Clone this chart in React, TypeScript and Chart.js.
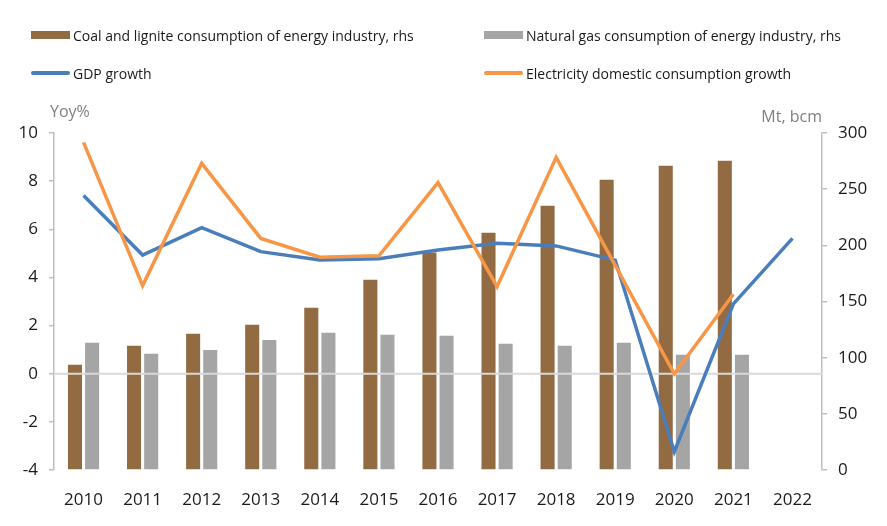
import React, { useEffect, useRef } from "react";
import { Chart, registerables } from "chart.js";

Chart.register(...registerables);

const years = ["2010", "2011", "2012", "2013", "2014", "2015", "2016", "2017", "2018", "2019", "2020", "2021", "2022"];
const coalMt = [93.6, 110.5, 121.2, 129.2, 144.4, 169.3, 193.7, 211.2, 235.3, 258.4, 270.9, 275.3, null];
const gasBcm = [113.2, 103.4, 106.9, 115.8, 122.1, 120.3, 119.4, 112.3, 110.5, 113.2, 102.5, 102.5, null];
const gdpGrowth = [7.4, 4.93, 6.07, 5.07, 4.72, 4.78, 5.14, 5.42, 5.31, 4.72, -3.24, 2.9, 5.62];
const elecGrowth = [9.61, 3.66, 8.74, 5.62, 4.84, 4.9, 7.94, 3.62, 8.99, 4.5, 0.0, 3.3, null];

const legendItems = [
  { label: "Coal and lignite consumption of energy industry, rhs", color: "#926b42", kind: "box" },
  { label: "Natural gas consumption of energy industry, rhs", color: "#a5a5a5", kind: "box" },
  { label: "GDP growth", color: "#4a7ebb", kind: "line" },
  { label: "Electricity domestic consumption growth", color: "#f79646", kind: "line" },
];

const FONT = "'Open Sans', sans-serif";

export default function App() {
  const ref = useRef<HTMLCanvasElement | null>(null);

  useEffect(() => {
    if (!ref.current) return;
    let zeroDrawn = false;
    const zeroLine = {
      id: "zeroLine",
      beforeDatasetsDraw() {
        zeroDrawn = false;
      },
      beforeDatasetDraw(chart: any, args: any) {
        if (zeroDrawn || args.meta.type !== "line") return;
        zeroDrawn = true;
        const y = chart.scales.y.getPixelForValue(0);
        const ctx = chart.ctx;
        ctx.save();
        ctx.strokeStyle = "#d9d9d9";
        ctx.lineWidth = 2;
        ctx.beginPath();
        ctx.moveTo(chart.chartArea.left, y);
        ctx.lineTo(chart.chartArea.right, y);
        ctx.stroke();
        ctx.restore();
      },
    };
    const titles = {
      id: "axisTitles",
      afterDraw(chart: any) {
        const ctx = chart.ctx;
        const a = chart.chartArea;
        ctx.save();
        ctx.font = `16px ${FONT}`;
        ctx.fillStyle = "#7f7f7f";
        ctx.textBaseline = "middle";
        ctx.textAlign = "left";
        ctx.fillText("Yoy%", a.left - 4, a.top - 21);
        ctx.textAlign = "right";
        ctx.fillText("Mt, bcm", a.right, a.top - 16);
        ctx.restore();
      },
    };
    const chart = new Chart(ref.current, {
      type: "bar",
      data: {
        labels: years,
        datasets: [
          {
            type: "line",
            label: "GDP growth",
            data: gdpGrowth,
            borderColor: "#4a7ebb",
            backgroundColor: "#4a7ebb",
            borderWidth: 3.5,
            pointRadius: 0,
            tension: 0,
            yAxisID: "y",
            order: 1,
          },
          {
            type: "line",
            label: "Electricity domestic consumption growth",
            data: elecGrowth,
            borderColor: "#f79646",
            backgroundColor: "#f79646",
            borderWidth: 3.5,
            pointRadius: 0,
            tension: 0,
            yAxisID: "y",
            order: 0,
          },
          {
            type: "bar",
            label: "Coal and lignite consumption of energy industry, rhs",
            data: coalMt,
            backgroundColor: "#926b42",
            yAxisID: "y1",
            order: 3,
            categoryPercentage: 0.58,
            barPercentage: 0.82,
          },
          {
            type: "bar",
            label: "Natural gas consumption of energy industry, rhs",
            data: gasBcm,
            backgroundColor: "#a5a5a5",
            yAxisID: "y1",
            order: 3,
            categoryPercentage: 0.58,
            barPercentage: 0.82,
          },
        ] as any,
      },
      options: {
        animation: false,
        responsive: false,
        devicePixelRatio: 1,
        layout: { padding: { top: 133, left: 0, right: 0, bottom: 0 } },
        plugins: { legend: { display: false }, tooltip: { enabled: false } },
        scales: {
          x: {
            grid: { display: false },
            border: { display: false },
            ticks: { color: "#1a1a1a", font: { family: FONT, size: 17 }, padding: 12, maxRotation: 0 },
            afterFit(scale: any) {
              scale.height = 56;
            },
          },
          y: {
            position: "left",
            min: -4,
            max: 10,
            ticks: { stepSize: 2, color: "#1a1a1a", font: { family: FONT, size: 17 }, padding: 11 },
            grid: { drawOnChartArea: false, color: "#bfbfbf", tickLength: 5, lineWidth: 1.5 },
            border: { display: true, color: "#bfbfbf", width: 1.5 },
            afterFit(scale: any) {
              scale.width = 54;
            },
          },
          y1: {
            position: "right",
            min: 0,
            max: 300,
            ticks: { stepSize: 50, color: "#1a1a1a", font: { family: FONT, size: 17 }, padding: 11 },
            grid: { drawOnChartArea: false, color: "#bfbfbf", tickLength: 5, lineWidth: 1.5 },
            border: { display: true, color: "#bfbfbf", width: 1.5 },
            afterFit(scale: any) {
              scale.width = 65;
            },
          },
        },
      } as any,
      plugins: [zeroLine, titles],
    });
    return () => chart.destroy();
  }, []);

  const positions = [
    { left: 31, top: 35 },
    { left: 484, top: 35 },
    { left: 31, top: 73 },
    { left: 484, top: 73 },
  ];

  return (
    <div style={{ position: "absolute", left: 0, top: 0, width: 887, height: 526, background: "#fff", overflow: "hidden" }}>
      <canvas ref={ref} width={887} height={526} style={{ position: "absolute", left: 0, top: 0 }} />
      {legendItems.map((it, i) => (
        <div
          key={it.label}
          style={{
            position: "absolute",
            left: positions[i].left,
            top: positions[i].top - 10,
            height: 20,
            display: "flex",
            alignItems: "center",
            fontFamily: FONT,
            fontSize: 14,
            color: "#1a1a1a",
            whiteSpace: "nowrap",
          }}
        >
          <span
            style={{
              display: "inline-block",
              width: 39,
              height: it.kind === "box" ? 8 : 4,
              borderRadius: it.kind === "line" ? 2 : 0,
              background: it.color,
              marginRight: 3,
            }}
          />
          <span>{it.label}</span>
        </div>
      ))}
    </div>
  );
}
